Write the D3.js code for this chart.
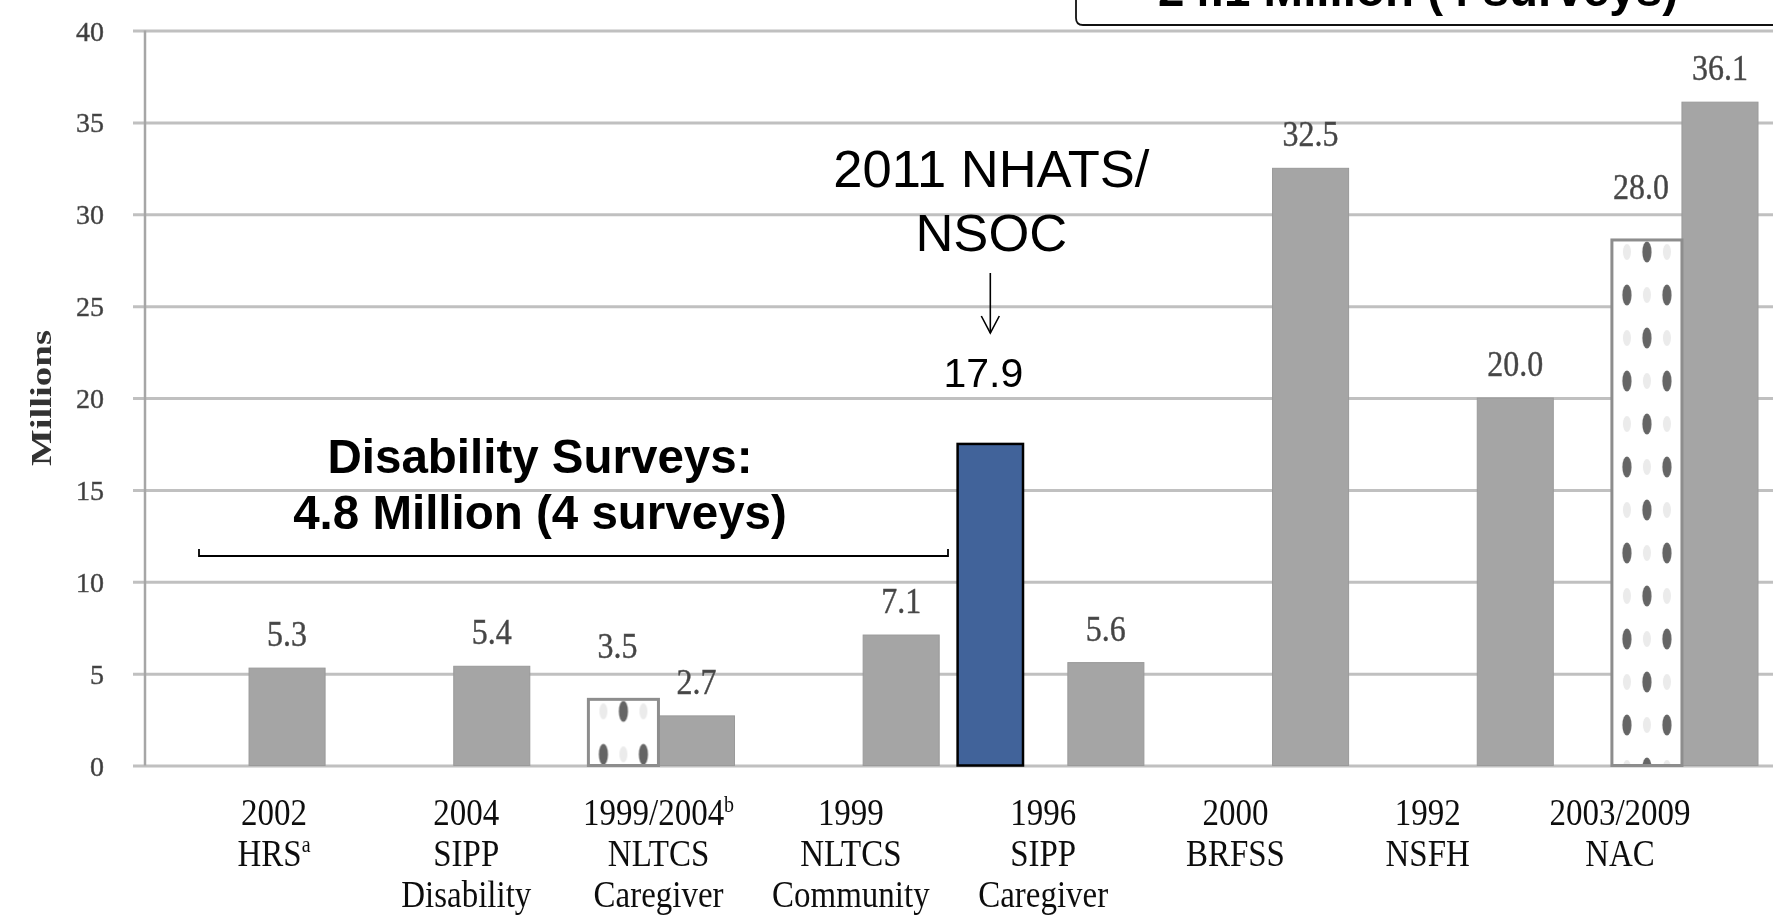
<!DOCTYPE html>
<html>
<head>
<meta charset="utf-8">
<script src="https://cdn.jsdelivr.net/npm/d3@7"></script>
<style>
  html, body { margin: 0; padding: 0; background: #ffffff; }
  svg { display: block; }
</style>
</head>
<body>
<script>
// ---------------- data ----------------
const categories = ["2002 HRS", "2004 SIPP Disability", "1999/2004 NLTCS Caregiver", "1999 NLTCS Community",
                    "1996 SIPP Caregiver", "2000 BRFSS", "1992 NSFH", "2003/2009 NAC"];
// category label lines; "^" marks a superscript
const categoryLines = [
  ["2002", "HRS^a"],
  ["2004", "SIPP", "Disability"],
  ["1999/2004^b", "NLTCS", "Caregiver"],
  ["1999", "NLTCS", "Community"],
  ["1996", "SIPP", "Caregiver"],
  ["2000", "BRFSS"],
  ["1992", "NSFH"],
  ["2003/2009", "NAC"]
];
// solid grey series (bar heights and printed values)
const mainValues = [5.3, 5.4, 2.7, 7.1, 5.6, 32.5, 20.0, 36.1];
// dotted series: bar heights as drawn, and the printed values
const altValues = [null, null, 3.6, null, null, null, null, 28.6];
const altLabels = [null, null, "3.5", null, null, null, null, "28.0"];
// inserted 2011 NHATS/NSOC bar (drawn height) and its printed value
const nhatsValue = 17.5;
const nhatsLabel = "17.9";
const yTicks = [0, 5, 10, 15, 20, 25, 30, 35, 40];
const yTitle = "Millions";
const nhatsTitle = ["2011 NHATS/", "NSOC"];
const disabilityNote = ["Disability Surveys:", "4.8 Million (4 surveys)"];
const caregiverNote = "24.1 Million (4 surveys)";

// ---------------- layout ----------------
const W = 1773, H = 917;
const SERIF = "'Liberation Serif', 'Times New Roman', serif";
const SANS = "'Liberation Sans', Arial, sans-serif";

const svg = d3.select("body").append("svg").attr("width", W).attr("height", H);

const defs = svg.append("defs");
defs.append("filter").attr("id", "soft")
  .append("feGaussianBlur").attr("stdDeviation", 0.6);

const y = d3.scaleLinear().domain([0, 40]).range([765.5, 30.5]);
const x = d3.scaleBand().domain(categories).range([173, 1758]).paddingInner(0.257).paddingOuter(0);
const xs = d3.scaleBand().domain(["alt", "main"]).range([0, x.bandwidth()]);
const xl = d3.scalePoint().domain(categories).range([274, 1620]);

const base = svg.append("g").attr("filter", "url(#soft)");

// gridlines + y tick labels
const axisX = 133;
const yAxis = base.append("g").attr("transform", `translate(${axisX},0)`)
  .call(d3.axisLeft(y).tickValues(yTicks).tickSize(-(W - axisX)).tickPadding(29));
yAxis.select(".domain").remove();
yAxis.selectAll(".tick line").attr("stroke", "#c0c0c0").attr("stroke-width", 3);
yAxis.selectAll(".tick text")
  .attr("font-family", SERIF).attr("font-size", 28).attr("fill", "#3c3c3c")
  .attr("stroke", "#5a5a5a").attr("stroke-width", 0.5)
  .attr("dy", "0.34em");

// vertical axis line
base.append("line")
  .attr("x1", 145).attr("x2", 145).attr("y1", y(0)).attr("y2", y(40))
  .attr("stroke", "#a6a6a6").attr("stroke-width", 2.5);

// y title
base.append("text")
  .attr("transform", `translate(51,${(y(0) + y(40)) / 2}) rotate(-90)`)
  .attr("text-anchor", "middle")
  .attr("font-family", SERIF).attr("font-weight", "bold").attr("font-size", 30)
  .attr("textLength", 136).attr("lengthAdjust", "spacingAndGlyphs")
  .attr("fill", "#333")
  .text(yTitle);

// solid grey bars
const sw = xs.bandwidth();
base.append("g").selectAll("rect")
  .data(categories.map((c, i) => ({ c, v: mainValues[i] })))
  .join("rect")
  .attr("x", d => x(d.c) + xs("main"))
  .attr("y", d => y(d.v))
  .attr("width", sw)
  .attr("height", d => y(0) - y(d.v))
  .attr("fill", "#a5a5a5")
  .attr("stroke", "#9a9a9a").attr("stroke-width", 1);

// dotted bars
const altData = categories.map((c, i) => ({ c, v: altValues[i], lab: altLabels[i], i })).filter(d => d.v != null);
altData.forEach(d => {
  const x0 = x(d.c) + xs("alt") + 6;
  const x1 = x(d.c) + xs("alt") + sw;
  const top = y(d.v);
  const cx = (x0 + x1) / 2;
  const pid = "dots" + d.i;
  const pat = defs.append("pattern").attr("id", pid)
    .attr("patternUnits", "userSpaceOnUse")
    .attr("x", cx - 40).attr("y", top + 12 - 43)
    .attr("width", 80).attr("height", 86);
  // faint positions
  [[40, 0], [40, 86], [20, 43], [60, 43]].forEach(p =>
    pat.append("ellipse").attr("cx", p[0]).attr("cy", p[1]).attr("rx", 4).attr("ry", 8).attr("fill", "#ebebeb"));
  // dark dots
  [[40, 43], [20, 0], [60, 0], [20, 86], [60, 86]].forEach(p =>
    pat.append("ellipse").attr("cx", p[0]).attr("cy", p[1]).attr("rx", 4.6).attr("ry", 10.5).attr("fill", "#656565"));
  base.append("rect")
    .attr("x", x0).attr("y", top)
    .attr("width", x1 - x0).attr("height", y(0) - top)
    .attr("fill", "#fff");
  base.append("rect")
    .attr("x", x0).attr("y", top)
    .attr("width", x1 - x0).attr("height", y(0) - top)
    .attr("fill", `url(#${pid})`)
    .attr("stroke", "#8d8d8d").attr("stroke-width", 3);
});

// value labels (grey serif)
const fmt = d3.format(".1f");
function valueLabel(cx, baseY, txt) {
  base.append("g").attr("transform", `translate(${cx},${baseY}) scale(1,1.12)`)
    .append("text").attr("text-anchor", "middle")
    .attr("font-family", SERIF).attr("font-size", 32).attr("fill", "#444")
    .attr("stroke", "#555").attr("stroke-width", 0.4)
    .text(txt);
}
categories.forEach((c, i) => {
  valueLabel(x(c) + xs("main") + sw / 2, y(mainValues[i]) - 22, fmt(mainValues[i]));
});
altData.forEach(d => {
  valueLabel(x(d.c) + xs("alt") + sw / 2 - 3, y(d.v) - 41, d.lab);
});

// category labels
categories.forEach((c, i) => {
  const g = base.append("g").attr("transform", `translate(${xl(c)},825) scale(1,1.12)`);
  categoryLines[i].forEach((line, k) => {
    const t = g.append("text").attr("text-anchor", "middle")
      .attr("y", k * 36.5)
      .attr("font-family", SERIF).attr("font-size", 33).attr("fill", "#111");
    const parts = line.split("^");
    t.append("tspan").text(parts[0]);
    if (parts[1]) {
      t.append("tspan").attr("font-size", 20).attr("dy", -12).text(parts[1]);
    }
  });
});

// ---------------- annotations (crisp) ----------------
const ann = svg.append("g");

// NHATS bar between NLTCS Community and SIPP Caregiver
const cA = categories[3], cB = categories[4];
const gapStart = x(cA) + x.bandwidth();
const gapW = x(cB) - gapStart;
const nbX = gapStart + 0.35 * gapW;
const nbW = 0.86 * sw;
ann.append("rect")
  .attr("x", nbX).attr("y", y(nhatsValue))
  .attr("width", nbW).attr("height", y(0) - y(nhatsValue))
  .attr("fill", "#41639a").attr("stroke", "#000").attr("stroke-width", 2.5);

const nbC = nbX + nbW / 2;
nhatsTitle.forEach((line, k) => {
  ann.append("text").attr("x", nbC + 1).attr("y", 187 + k * 64)
    .attr("text-anchor", "middle").attr("font-family", SANS).attr("font-size", 52.5).attr("fill", "#000")
    .text(line);
});
// arrow
ann.append("line").attr("x1", nbC).attr("x2", nbC).attr("y1", 273).attr("y2", 333)
  .attr("stroke", "#000").attr("stroke-width", 1.6);
ann.append("polyline")
  .attr("points", `${nbC - 9},316 ${nbC},333 ${nbC + 9},316`)
  .attr("fill", "none").attr("stroke", "#000").attr("stroke-width", 1.6);
ann.append("text").attr("x", nbC - 7).attr("y", 387)
  .attr("text-anchor", "middle").attr("font-family", SANS).attr("font-size", 41).attr("fill", "#000")
  .text(nhatsLabel);

// disability surveys note + bracket
disabilityNote.forEach((line, k) => {
  ann.append("text").attr("x", 540).attr("y", 473 + k * 56)
    .attr("text-anchor", "middle").attr("font-family", SANS).attr("font-weight", "bold")
    .attr("font-size", 47.5).attr("fill", "#000")
    .text(line);
});
ann.append("path")
  .attr("d", `M199,549 V556 H948 V549`)
  .attr("fill", "none").attr("stroke", "#000").attr("stroke-width", 1.8);

// caregiver surveys box (cut by the top edge)
ann.append("path")
  .attr("d", `M1076,-5 V18 Q1076,25 1083,25 H${W + 10}`)
  .attr("fill", "#fff").attr("stroke", "#111").attr("stroke-width", 1.8);
ann.append("text").attr("x", 1418).attr("y", 6)
  .attr("text-anchor", "middle").attr("font-family", SANS).attr("font-weight", "bold")
  .attr("font-size", 47.5).attr("fill", "#000")
  .text(caregiverNote);
</script>
</body>
</html>
